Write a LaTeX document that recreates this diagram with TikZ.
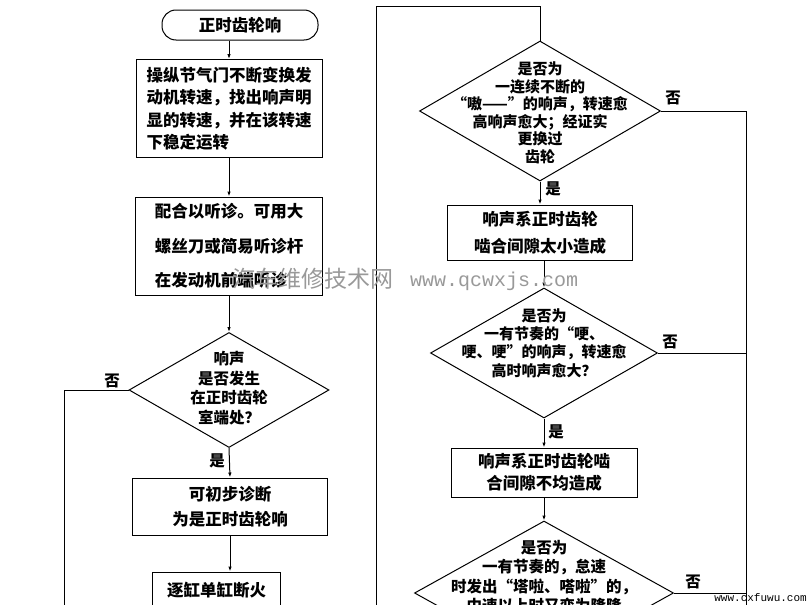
\documentclass[tikz,border=0pt]{standalone}
\usepackage{fontspec}
\newfontfamily\cjk{Noto Sans CJK SC}
\newfontfamily\wmono{Liberation Mono}
\usetikzlibrary{shapes.geometric,arrows.meta,calc}
\tikzset{
  % Process box: CJK text inside
  pbox/.style={draw, rectangle, line width=1pt, inner sep=0pt, align=center,
               font=\cjk\bfseries\fontsize{16.5}{25}\selectfont},
  % Start terminal
  tbox/.style={pbox, rounded corners=14pt},
  % Decision diamond: outline only, text set on top of it
  qbox/.style={draw, diamond, line width=1pt, inner sep=0pt},
  qtext/.style={align=center, inner sep=0pt, font=\cjk\bfseries\fontsize{15}{17.5}\selectfont},
  % Yes / no tags
  tag/.style={inner sep=0pt, font=\cjk\bfseries\fontsize{15.5}{16}\selectfont},
  % Connectors
  flowarr/.style={-{Latex[length=5pt,width=3.5pt]}, line width=1pt},
  flowline/.style={line width=1pt},
  % Watermarks of the scanned page
  wmark/.style={inner sep=0pt, text=black!40}
}

\begin{document}
\begin{tikzpicture}[x=1pt, y=-1pt]
\useasboundingbox (0,0) rectangle (807,605);
\clip (0,0) rectangle (807,605);

% ============== LEFT COLUMN ==============
\node[tbox, minimum width=156pt, minimum height=30pt] (start) at (240,25) {正时齿轮响};
\node[pbox, align=left, minimum width=186pt, minimum height=98pt,
      font=\cjk\bfseries\fontsize{16.5}{22.5}\selectfont] (tune) at (229,108.5)
  {操纵节气门不断变换发\\动机转速，找出响声明\\显的转速，并在该转速\\下稳定运转};
\node[pbox, align=left, minimum width=187pt, minimum height=98pt,
      font=\cjk\bfseries\fontsize{16.5}{34.5}\selectfont] (listen) at (229,246)
  {配合以听诊。可用大\\螺丝刀或简易听诊杆\\在发动机前端听诊};
\node[qbox, minimum width=200pt, minimum height=115pt] (qpos) at (229,390) {};
\node[qtext, font=\cjk\bfseries\fontsize{15.5}{19.7}\selectfont] (qpos-t) at (229,388)
  {响声\\是否发生\\在正时齿轮\\室端处？};
\node[pbox, minimum width=195pt, minimum height=57pt] (judge) at (230,506.5)
  {可初步诊断\\为是正时齿轮响};
\node[pbox, minimum width=128pt, minimum height=36pt] (cutoff) at (216.5,590) {逐缸单缸断火};

\draw[flowarr] (start.south -| tune.north) -- (tune.north);
\draw[flowarr] (tune.south) -- (listen.north);
\draw[flowarr] (listen.south) -- (qpos.north);
\draw[flowarr] (qpos.south) -- (judge.north);
\draw[flowarr] (judge.south) -- (judge.south |- cutoff.north);

% "no" branch runs down the left margin
\coordinate (noL) at (64,390);
\coordinate (noLend) at (64,610);
\draw[flowline] (qpos.west) -- (noL) -- (noLend);
\node[tag] (noL-t) at (112,381) {否};
\node[tag] (yesL-t) at (217,461) {是};

% ============== RIGHT COLUMN ==============
\coordinate (loopbot) at (376,610);
\coordinate (looptop) at (376,6);
\node[qbox, minimum width=241pt, minimum height=140pt] (qhum) at (540,111) {};
\draw[flowline] (loopbot) -- (looptop) -| (qhum.north);
\node[qtext] (qhum-t) at (540,113)
  {是否为\\一连续不断的\\“嗷——”的响声，转速愈\\高响声愈大；经证实\\更换过\\齿轮};
\node[pbox, minimum width=185pt, minimum height=55pt,
      font=\cjk\bfseries\fontsize{16.5}{27}\selectfont] (tight) at (540,232.5)
  {响声系正时齿轮\\啮合间隙太小造成};
\node[qbox, minimum width=227pt, minimum height=130pt] (qknock) at (544,353) {};
\node[qtext, font=\cjk\bfseries\fontsize{15}{18.3}\selectfont] (qknock-t) at (544,343)
  {是否为\\一有节奏的“哽、\\哽、哽”的响声，转速愈\\高时响声愈大？};
\node[pbox, minimum width=186pt, minimum height=49pt,
      font=\cjk\bfseries\fontsize{16.5}{22}\selectfont] (uneven) at (544,472.5)
  {响声系正时齿轮啮\\合间隙不均造成};
\node[qbox, minimum width=259pt, minimum height=144pt] (qtap) at (544,593) {};
\node[qtext, font=\cjk\bfseries\fontsize{15.5}{19.3}\selectfont, anchor=north] (qtap-t) at (544,540)
  {是否为\\一有节奏的，怠速\\时发出“塔啦、嗒啦”的，\\中速以上时又变为隆隆};

\draw[flowarr] (qhum.south) -- (tight.north);
\draw[flowarr] (tight.south -| qknock.north) -- (qknock.north);
\draw[flowarr] (qknock.south) -- (uneven.north);
\draw[flowarr] (uneven.south) -- (qtap.north);

% "no" branches join the rail on the right
\coordinate (rail) at (746,111);
\coordinate (railend) at (746,610);
\draw[flowline] (qhum.east) -- (rail) -- (railend);
\draw[flowline] (qknock.east) -- (qknock.east -| rail);
\draw[flowline] (qtap.east) -- (qtap.east -| rail);
\node[tag] (noR1-t) at (673,98) {否};
\node[tag] (noR2-t) at (670,342) {否};
\node[tag] (noR3-t) at (693,582) {否};
\node[tag] (yesR1-t) at (553,189) {是};
\node[tag] (yesR2-t) at (556,432) {是};

% ============== WATERMARKS ==============
\node[wmark, font=\cjk\fontsize{23}{23}\selectfont, anchor=west] (wm-cn) at (232,279) {汽车维修技术网};
\node[wmark, font=\wmono\fontsize{20}{20}\selectfont, anchor=west] (wm-url) at (410,281) {www.qcwxjs.com};
\node[inner sep=0pt, font=\wmono\fontsize{11}{11}\selectfont, anchor=east] (wm-site) at (807,598) {www.cxfuwu.com};

\end{tikzpicture}
\end{document}
